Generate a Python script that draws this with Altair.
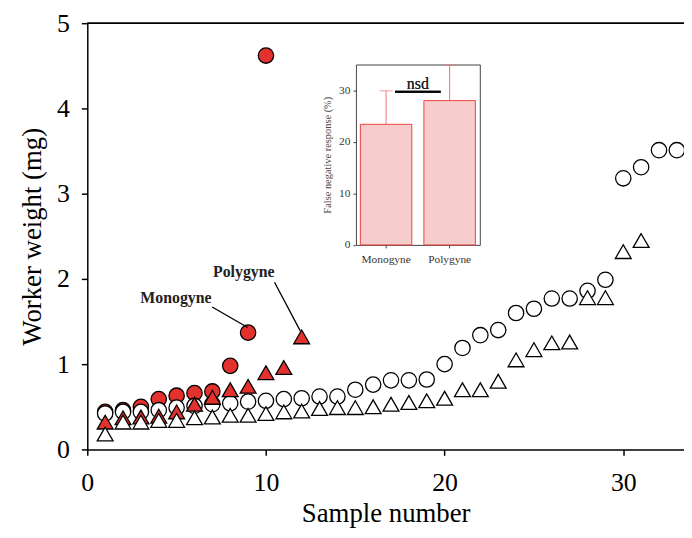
import altair as alt
import pandas as pd

# ---------------- data ----------------
open_circle_x = list(range(1, 34))
open_circle_y = [0.42, 0.44, 0.44, 0.46, 0.49, 0.51, 0.53, 0.54, 0.56, 0.57,
                 0.59, 0.60, 0.62, 0.62, 0.70, 0.76, 0.81, 0.81, 0.82, 1.00,
                 1.19, 1.34, 1.40, 1.60, 1.65, 1.77, 1.77, 1.86, 1.99, 3.18,
                 3.31, 3.51, 3.51]

open_tri_x = list(range(1, 32))
open_tri_y = [0.18, 0.32, 0.32, 0.34, 0.34, 0.37, 0.38, 0.40, 0.40, 0.42,
              0.44, 0.45, 0.48, 0.49, 0.49, 0.50, 0.53, 0.55, 0.57, 0.60,
              0.70, 0.70, 0.80, 1.05, 1.17, 1.25, 1.26, 1.78, 1.78, 2.32,
              2.45]

red_circle_x = list(range(1, 11))
red_circle_y = [0.44, 0.46, 0.50, 0.59, 0.63, 0.66, 0.68, 0.98, 1.37, 4.62]

red_tri_x = list(range(1, 13))
red_tri_y = [0.32, 0.37, 0.38, 0.39, 0.44, 0.53, 0.61, 0.70, 0.74, 0.90, 0.96, 1.32]

ann_label = ["Monogyne", "Polygyne"]
ann_label_x = [4.96, 8.76]
ann_label_y = [1.78, 2.08]
ann_line_x1 = [6.99, 10.48]
ann_line_y1 = [1.67, 1.96]
ann_line_x2 = [8.98, 11.92]
ann_line_y2 = [1.43, 1.39]

inset_groups = ["Monogyne", "Polygyne"]
inset_values = [23.4, 28.0]
inset_upper = [29.9, 34.9]

FONT = "Liberation Serif"
RED = "#e3312e"

# ---------------- layout (pixels) ----------------
PAD_TOP = 13
W, H = 602, 430          # plot area: page x 88..690, y 21..451
IN_LEFT, IN_RIGHT = 271, 396
IN_BOTTOM = 244.7 - 8 - PAD_TOP
IN_TOP = 62.7 - 8 - PAD_TOP

# ---------------- main scatter ----------------
X_DOMAIN = [0, 33.4]
Y_DOMAIN = [0, 5]


def xs():
    return alt.Scale(domain=X_DOMAIN, nice=False, zero=False)


def ys():
    return alt.Scale(domain=Y_DOMAIN, nice=False)


xax = alt.Axis(values=[0, 10, 20, 30], title="Sample number", format="d",
               labelFont=FONT, labelFontSize=26, titleFont=FONT, titleFontSize=27,
               titleFontWeight="normal", labelColor="black", titleColor="black",
               domainColor="black", tickColor="black", domainWidth=1.5, tickWidth=1.5,
               tickSize=6, labelPadding=14, titlePadding=6, grid=False, labelFlush=False)
yax = alt.Axis(values=[0, 1, 2, 3, 4, 5], title="Worker weight (mg)", format="d",
               labelFont=FONT, labelFontSize=26, titleFont=FONT, titleFontSize=27,
               titleFontWeight="normal", labelColor="black", titleColor="black",
               domainColor="black", tickColor="black", domainWidth=1.5, tickWidth=1.5,
               tickSize=6, labelPadding=12, titlePadding=10, grid=False, labelFlush=False)


def pts(xv, yv, shape, fill, with_axes=False):
    df = pd.DataFrame({"x": xv, "y": yv})
    return alt.Chart(df).mark_point(
        shape=shape, filled=True, fill=fill, stroke="black", strokeWidth=1.3,
        opacity=1, size=240 if shape == "circle" else 256, clip=False
    ).encode(
        x=alt.X("x:Q", scale=xs(), axis=xax if with_axes else None),
        y=alt.Y("y:Q", scale=ys(), axis=yax if with_axes else None),
    )


red_c = pts(red_circle_x, red_circle_y, "circle", RED, with_axes=True)
open_c = pts(open_circle_x, open_circle_y, "circle", "white")
red_t = pts(red_tri_x, red_tri_y, "triangle-up", RED)
open_t = pts(open_tri_x, open_tri_y, "triangle-up", "white")

ann_df = pd.DataFrame({"label": ann_label, "lx": ann_label_x, "ly": ann_label_y,
                       "x1": ann_line_x1, "y1": ann_line_y1,
                       "x2": ann_line_x2, "y2": ann_line_y2})
ann_lines = alt.Chart(ann_df).mark_rule(color="black", strokeWidth=1.3).encode(
    x=alt.X("x1:Q", scale=xs(), axis=None), y=alt.Y("y1:Q", scale=ys(), axis=None),
    x2="x2:Q", y2="y2:Q")
ann_text = alt.Chart(ann_df).mark_text(font=FONT, fontSize=16, fontWeight="bold",
                                       color="#222", baseline="middle").encode(
    x=alt.X("lx:Q", scale=xs(), axis=None), y=alt.Y("ly:Q", scale=ys(), axis=None),
    text="label:N")
top_rule = alt.Chart(ann_df).mark_rule(color="black", strokeWidth=1.5).encode(
    y=alt.datum(5, scale=ys(), axis=None))

# ---------------- inset bar chart ----------------
inset_df = pd.DataFrame({"group": inset_groups, "value": inset_values, "upper": inset_upper})
ixs = alt.Scale(domain=inset_groups, range=[IN_LEFT, IN_RIGHT], paddingInner=0.19, paddingOuter=0.07)
iys = alt.Scale(domain=[0, 35], range=[IN_BOTTOM, IN_TOP], nice=False, zero=True)

ix_axis = alt.Axis(orient="bottom", offset=IN_BOTTOM - H, title=None, labelFont=FONT,
                   labelFontSize=11.5, labelColor="#3a3530", labelAngle=0,
                   domainColor="#444", tickColor="#444", tickSize=3, labelPadding=6,
                   grid=False)
iy_axis = alt.Axis(orient="left", offset=-IN_LEFT, values=[0, 10, 20, 30],
                   title="False negative response (%)", titleFont=FONT,
                   titleFontSize=10.5, titleFontWeight="normal", titleColor="#4a4540",
                   labelFont=FONT, labelFontSize=11.5, labelColor="#3a3530",
                   domainColor="#444", tickColor="#444", tickSize=3, labelPadding=3,
                   titlePadding=6, grid=False)

bars = alt.Chart(inset_df).mark_bar(fill="#f7cccc", stroke="#e8453f", strokeWidth=1).encode(
    x=alt.X("group:N", scale=ixs, axis=ix_axis, sort=inset_groups),
    y=alt.Y("value:Q", scale=iys, axis=iy_axis))

err = alt.Chart(inset_df).mark_rule(color="#ee7070", strokeWidth=1).encode(
    x=alt.X("group:N", scale=ixs, axis=None, sort=inset_groups),
    y=alt.Y("value:Q", scale=iys, axis=None), y2="upper:Q")
caps = alt.Chart(inset_df).mark_tick(color="#ee7070", thickness=1, size=13,
                                     orient="horizontal").encode(
    x=alt.X("group:N", scale=ixs, axis=None, sort=inset_groups),
    y=alt.Y("upper:Q", scale=iys, axis=None))

nsd_line = alt.Chart(inset_df).mark_rule(color="black", strokeWidth=2,
                                         xOffset=9, x2Offset=-9).encode(
    x=alt.datum("Monogyne", scale=ixs, axis=None),
    x2=alt.datum("Polygyne"),
    y=alt.datum(29.7, scale=iys, axis=None))
nsd_text = alt.Chart(inset_df).mark_text(text="nsd", font=FONT, fontSize=16,
                                         color="#222", baseline="alphabetic",
                                         xOffset=32).encode(
    x=alt.datum("Monogyne", scale=ixs, axis=None),
    y=alt.datum(30.3, scale=iys, axis=None))

frame = alt.Chart(inset_df).mark_bar(opacity=0).encode(
    x=alt.X("group:N", scale=ixs, sort=inset_groups,
            axis=alt.Axis(orient="top", offset=-IN_TOP, labels=False, ticks=False,
                          title=None, domainColor="#444", grid=False)),
    y=alt.Y("value:Q", scale=iys,
            axis=alt.Axis(orient="right", offset=IN_RIGHT - W, labels=False, ticks=False,
                          title=None, domainColor="#444", grid=False)))

inset = alt.layer(bars, err, caps, nsd_line, nsd_text, frame).resolve_axis(
    x="independent", y="independent")

chart = alt.layer(
    top_rule, red_c, open_c, red_t, open_t, ann_lines, ann_text, inset
).resolve_scale(
    x="independent", y="independent"
).properties(
    width=W, height=H,
    autosize=alt.AutoSizeParams(type="none"),
    padding={"left": 80, "top": PAD_TOP, "right": 0, "bottom": 78},
).configure_view(stroke=None)

chart.save("out.html", embed_options={"renderer": "svg", "actions": False})
